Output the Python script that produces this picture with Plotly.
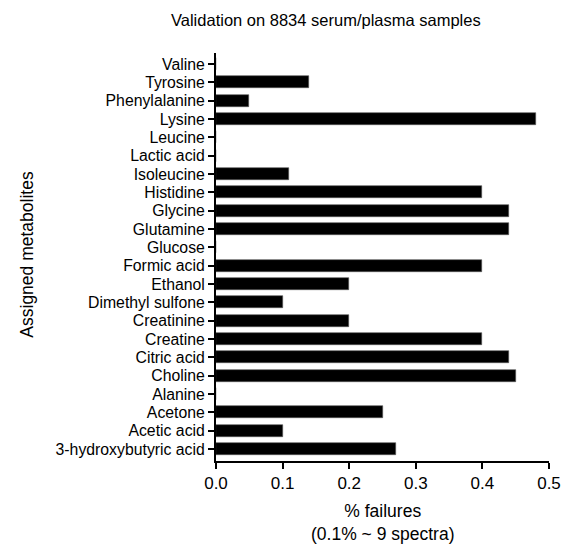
import plotly.graph_objects as go

metabolites = ["3-hydroxybutyric acid", "Acetic acid", "Acetone", "Alanine", "Choline",
               "Citric acid", "Creatine", "Creatinine", "Dimethyl sulfone", "Ethanol",
               "Formic acid", "Glucose", "Glutamine", "Glycine", "Histidine",
               "Isoleucine", "Lactic acid", "Leucine", "Lysine", "Phenylalanine",
               "Tyrosine", "Valine"]
failures = [0.27, 0.10, 0.25, 0.0, 0.45,
            0.44, 0.40, 0.20, 0.10, 0.20,
            0.40, 0.0, 0.44, 0.44, 0.40,
            0.11, 0.0, 0.0, 0.48, 0.05,
            0.14, 0.0]
x_ticks = [0.0, 0.1, 0.2, 0.3, 0.4, 0.5]

FONT = "Liberation Sans, Arial, sans-serif"

fig = go.Figure(go.Bar(
    y=metabolites, x=failures, orientation="h",
    marker=dict(color="black", line=dict(color="#555555", width=0.6)),
    width=0.65,
))

fig.update_layout(
    width=573, height=545,
    margin=dict(l=216, r=14, t=53, b=84),
    paper_bgcolor="white", plot_bgcolor="white",
    font=dict(family=FONT, color="black", size=17),
    showlegend=False,
    bargap=0,
)
fig.update_xaxes(
    range=[0, 0.5], tickmode="array", tickvals=x_ticks, ticktext=[f"{v:.1f}" for v in x_ticks],
    showgrid=False, zeroline=False, showline=True, linecolor="black", linewidth=2,
    ticks="outside", ticklen=6, tickwidth=2, tickcolor="black",
    tickfont=dict(size=17),
)
fig.update_yaxes(
    type="category", categoryorder="array", categoryarray=metabolites,
    tickmode="array", tickvals=metabolites, ticktext=metabolites,
    range=[-0.65, 21.6],
    showgrid=False, zeroline=False, showline=True, linecolor="black", linewidth=2,
    ticks="outside", ticklen=6, tickwidth=2, tickcolor="black",
    tickfont=dict(size=15.8),
)

fig.add_annotation(text="Validation on 8834 serum/plasma samples", xref="paper", yref="paper",
                   x=(329 - 216) / 343, y=1 + (53 - 20) / 408, showarrow=False,
                   font=dict(size=16.5), xanchor="center", yanchor="middle")
fig.add_annotation(text="% failures<br>(0.1% ~ 9 spectra)", xref="paper", yref="paper",
                   x=0.5, y=-(522 - 461) / 408, showarrow=False,
                   font=dict(size=17.5), xanchor="center", yanchor="middle")
fig.add_annotation(text="Assigned metabolites", xref="paper", yref="paper",
                   x=-(216 - 21) / 343, y=1 - (254 - 53) / 408, showarrow=False, textangle=-90,
                   font=dict(size=17.5), xanchor="center", yanchor="middle")

fig.write_html("out.html")
